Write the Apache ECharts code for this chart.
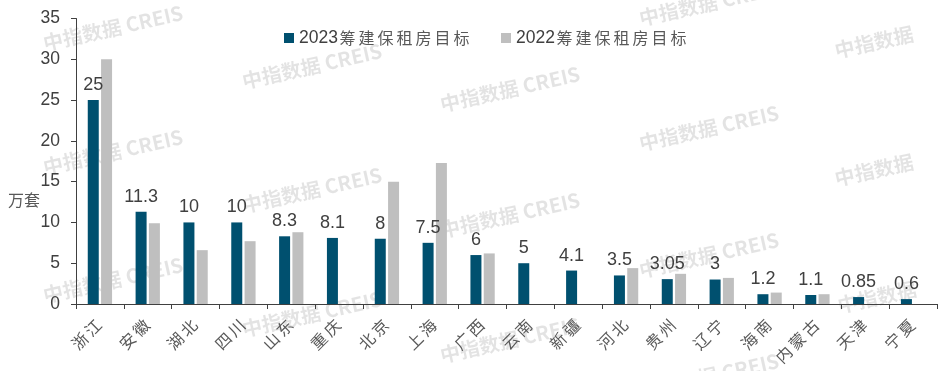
<!DOCTYPE html>
<html>
<head>
<meta charset="utf-8">
<script src="https://cdn.jsdelivr.net/npm/echarts@6/dist/echarts.min.js"></script>
<style>html,body{margin:0;padding:0;background:#fff}#c{width:948px;height:371px}</style>
</head>
<body>
<div id="c"></div>
<script>
var categories = ['浙江','安徽','湖北','四川','山东','重庆','北京','上海','广西','云南','新疆','河北','贵州','辽宁','海南','内蒙古','天津','宁夏'];
var target2023 = [25, 11.3, 10, 10, 8.3, 8.1, 8, 7.5, 6, 5, 4.1, 3.5, 3.05, 3, 1.2, 1.1, 0.85, 0.6];
var target2022 = [30, 9.9, 6.6, 7.7, 8.8, null, 15, 17.3, 6.2, null, null, 4.4, 3.7, 3.2, 1.4, 1.2, null, null];
var yTicks = [0, 5, 10, 15, 20, 25, 30, 35];
var seriesNames = ['2023筹建保租房目标', '2022筹建保租房目标'];
var yUnit = '万套';
var watermarkFull = '中指数据 CREIS';
var watermarkShort = '中指数据';

var BLUE = '#00506F', GRAY = '#BFBFBF';

function spaced(str) {
  return str.split('').map(function (ch) { return '{c|' + ch + '}'; }).join('');
}
function legendFmt(name) {
  return '{a|' + name.slice(0, 4) + '}' + spaced(name.slice(4));
}
var legendRich = {
  a: { fontFamily: 'Liberation Sans', fontSize: 17.5, color: '#404040' },
  c: { fontFamily: 'Noto Sans CJK SC', fontSize: 16, color: '#595959', padding: [0, 1.5, 0, 1.5] }
};

var wmStyle = { fontFamily: 'Noto Sans CJK SC', fontSize: 20, fontWeight: 'bold', fill: 'rgba(0,0,0,0.11)', textAlign: 'center', textVerticalAlign: 'middle' };
var wmPos = [
  [113, 28, 0], [113, 152, 0], [113, 280, 0],
  [312, 66, 0], [312, 190, 0], [312, 314, 0],
  [510, 89, 0], [510, 215, 0], [510, 340, 0],
  [709, 3, 0], [709, 128, 0], [709, 255, 0], [709, 376, 0],
  [874, 42, 1], [874, 170, 1], [877, 297, 1]
];
var graphics = wmPos.map(function (p) {
  return { type: 'text', x: p[0], y: p[1], rotation: 0.22, z: -10, silent: true,
    style: Object.assign({ text: p[2] ? watermarkShort : watermarkFull }, wmStyle) };
});
graphics.push({ type: 'text', x: 8, y: 200, z: 10,
  style: { text: yUnit, fontFamily: 'Noto Sans CJK SC', fontSize: 16, fill: '#595959', textVerticalAlign: 'middle' } });

var chart = echarts.init(document.getElementById('c'), null, { renderer: 'canvas' });
chart.setOption({
  animation: false,
  backgroundColor: '#ffffff',
  graphic: graphics,
  legend: [
    { left: 279, top: 24, data: [seriesNames[0]], icon: 'rect', itemWidth: 10, itemHeight: 10,
      formatter: legendFmt, textStyle: { rich: legendRich } },
    { left: 496, top: 24, data: [seriesNames[1]], icon: 'rect', itemWidth: 10, itemHeight: 10,
      formatter: legendFmt, textStyle: { rich: legendRich } }
  ],
  grid: { left: 76, right: 11, top: 18.5, bottom: 67, containLabel: false },
  xAxis: {
    type: 'category', data: categories, boundaryGap: true,
    axisLine: { lineStyle: { color: '#404040', width: 1 } },
    axisTick: { show: true, length: 5, alignWithLabel: false, lineStyle: { color: '#404040' } },
    axisLabel: { rotate: 45, interval: 0, margin: 17, formatter: spaced,
      rich: { c: { fontFamily: 'Noto Sans CJK SC', fontSize: 16, color: '#595959', padding: [0, 1.5, 0, 1.5] } } }
  },
  yAxis: {
    type: 'value', min: yTicks[0], max: yTicks[yTicks.length - 1], interval: yTicks[1] - yTicks[0],
    splitLine: { show: false },
    axisLine: { show: true, lineStyle: { color: '#404040', width: 1 } },
    axisTick: { show: true, length: 5, inside: false, lineStyle: { color: '#404040' } },
    axisLabel: { fontSize: 17.5, color: '#404040', margin: 16, fontFamily: 'Liberation Sans' }
  },
  series: [
    { name: seriesNames[0], type: 'bar', data: target2023, barWidth: 11, barGap: '21%',
      itemStyle: { color: BLUE },
      label: { show: true, position: 'top', distance: 6, fontSize: 18, color: '#404040', fontFamily: 'Liberation Sans' } },
    { name: seriesNames[1], type: 'bar', data: target2022, barWidth: 11, barGap: '21%',
      itemStyle: { color: GRAY } }
  ]
});
</script>
</body>
</html>
